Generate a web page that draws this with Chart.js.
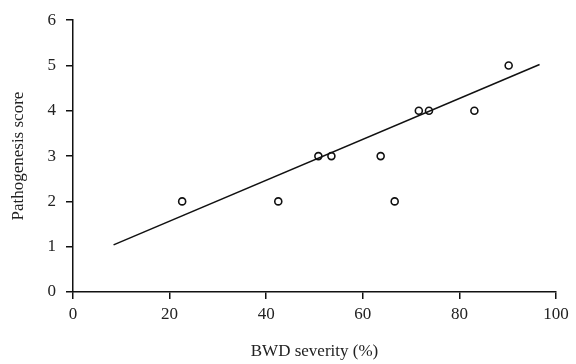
<!DOCTYPE html>
<html>
<head>
<meta charset="utf-8">
<script src="https://cdn.jsdelivr.net/npm/chart.js@4/dist/chart.umd.min.js"></script>
<style>
  html, body { margin: 0; padding: 0; background: #fff; }
  #wrap { width: 576px; height: 364px; }
</style>
</head>
<body>
<div id="wrap"><canvas id="canvas" width="576" height="364"></canvas></div>
<script>
	var severity = [22.6, 42.5, 50.8, 53.5, 63.7, 66.6, 71.6, 73.7, 83.1, 90.2];
	var score = [2, 2, 3, 3, 3, 2, 4, 4, 4, 5];
	var fitX = [8.4, 96.6];
	var fitY = [1.04, 5.02];
	var xTicks = [0, 20, 40, 60, 80, 100];
	var yTicks = [0, 1, 2, 3, 4, 5, 6];

	var points = severity.map(function (v, i) { return { x: v, y: score[i] }; });
	var fit = fitX.map(function (v, i) { return { x: v, y: fitY[i] }; });

	var font = { family: 'Liberation Serif', size: 17 };

	window.onload = function () {
		var ctx = document.getElementById('canvas').getContext('2d');
		window.myChart = new Chart(ctx, {
			type: 'scatter',
			data: {
				datasets: [{
					label: 'fit',
					type: 'line',
					data: fit,
					borderColor: '#111',
					borderWidth: 1.6,
					pointRadius: 0,
					fill: false
				}, {
					label: 'samples',
					data: points,
					pointRadius: 3.5,
					pointBorderWidth: 1.6,
					pointBackgroundColor: '#fff',
					pointBorderColor: '#111'
				}]
			},
			options: {
				responsive: false,
				animation: false,
				layout: { padding: { top: 15, right: 20, left: 0, bottom: 0 } },
				plugins: {
					legend: { display: false },
					tooltip: { enabled: false }
				},
				scales: {
					x: {
						type: 'linear',
						min: 0,
						max: 100,
						afterBuildTicks: function (s) { s.ticks = xTicks.map(function (v) { return { value: v }; }); },
						afterFit: function (s) { s.height = 72; },
						grid: { drawOnChartArea: false, drawTicks: true, tickLength: 7, color: '#111', lineWidth: 1.5 },
						border: { color: '#111', width: 1.5 },
						ticks: { color: '#222', font: font, padding: 5, maxRotation: 0 },
						title: { display: true, text: 'BWD severity (%)', color: '#222', font: font, padding: { top: 10, bottom: 2 } }
					},
					y: {
						type: 'linear',
						min: 0,
						max: 6,
						afterBuildTicks: function (s) { s.ticks = yTicks.map(function (v) { return { value: v }; }); },
						afterFit: function (s) { s.width = 73; },
						grid: { drawOnChartArea: false, drawTicks: true, tickLength: 7, color: '#111', lineWidth: 1.5 },
						border: { color: '#111', width: 1.5 },
						ticks: { color: '#222', font: font, padding: 10 },
						title: { display: true, text: 'Pathogenesis score', color: '#222', font: font, padding: { top: 8, bottom: 4 } }
					}
				}
			}
		});
	};
</script>
</body>
</html>
